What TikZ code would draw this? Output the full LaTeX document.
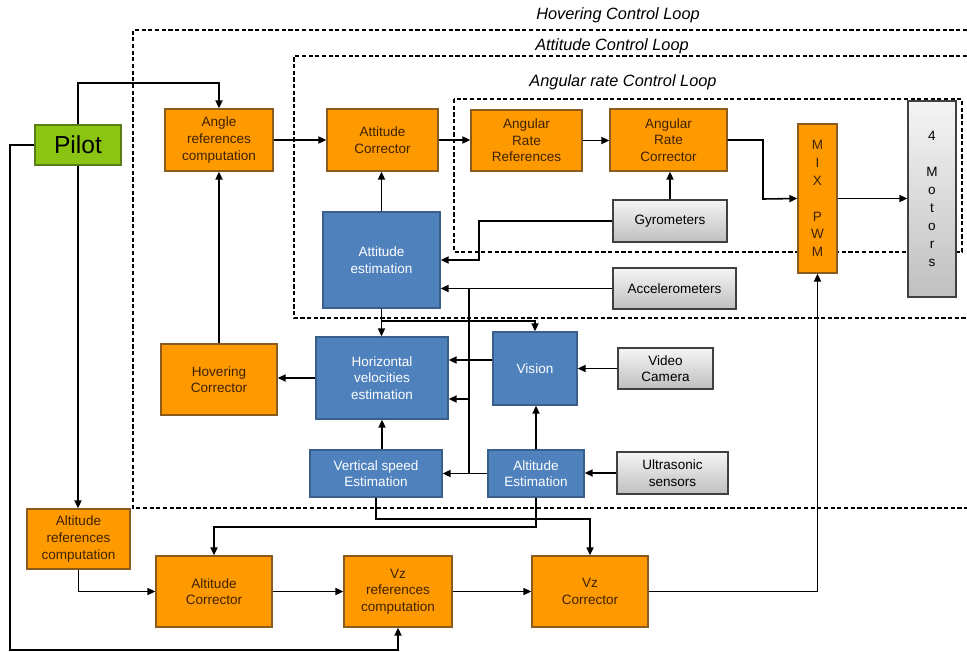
\documentclass[tikz,border=0pt]{standalone}
\usepackage{fontspec}
\setmainfont{Liberation Sans}
\usetikzlibrary{arrows.meta}

\definecolor{orangefill}{HTML}{FF9900}
\definecolor{orangeline}{HTML}{8A5A1E}
\definecolor{orangetext}{HTML}{3D2200}
\definecolor{bluefill}{HTML}{4F81BD}
\definecolor{blueline}{HTML}{3A5F8C}
\definecolor{pilotfill}{HTML}{8CC414}
\definecolor{pilotline}{HTML}{5A7D18}

\begin{document}
\begin{tikzpicture}[x=0.02cm,y=-0.02cm,
    >={Triangle[length=4.5pt,width=4pt]},
    block/.style={draw,line width=0.8pt,inner sep=0pt,align=center,
        font=\fontsize{7.7}{9.4}\selectfont},
    ctrl/.style={block,fill=orangefill,draw=orangeline,text=orangetext},
    est/.style={block,fill=bluefill,draw=blueline,text=white},
    sensor/.style={block,draw=black!75,top color=black!4,bottom color=black!25},
    pilotbox/.style={block,fill=pilotfill,draw=pilotline,font=\fontsize{14}{16}\selectfont},
    loopframe/.style={dash pattern=on 2.4pt off 1.4pt,line width=0.65pt,draw=black},
    looplabel/.style={font=\fontsize{9.3}{11}\selectfont\itshape},
    conn/.style={->,line width=0.9pt}]
    \useasboundingbox (0,0) rectangle (967,652);

    % control loops
    \draw[loopframe] (967,30) -- (133,30) -- (133,508) -- (967,508);
    \draw[loopframe] (967,56) -- (294,56) -- (294,318) -- (967,318);
    \draw[loopframe] (454,99) rectangle (962,252);
    \node[looplabel] (hovloop) at (618,15) {Hovering Control Loop};
    \node[looplabel] (attloop) at (612,46) {Attitude Control Loop};
    \node[looplabel] (rateloop) at (623,82) {Angular rate Control Loop};

    % blocks
    \node[pilotbox, minimum width=1.72cm, minimum height=0.8cm] (pilot) at (78,145) {Pilot};
    \node[ctrl, minimum width=2.16cm, minimum height=1.24cm] (angref) at (219,140) {Angle\\references\\computation};
    \node[ctrl, minimum width=2.22cm, minimum height=1.24cm] (attcor) at (382.5,140) {Attitude\\Corrector};
    \node[ctrl, minimum width=2.22cm, minimum height=1.22cm] (arr) at (526.5,140.5) {Angular\\Rate\\References};
    \node[ctrl, minimum width=2.34cm, minimum height=1.24cm] (arc) at (668.5,140) {Angular\\Rate\\Corrector};
    \node[ctrl, minimum width=0.78cm, minimum height=2.98cm, font=\fontsize{7.7}{10.2}\selectfont] (mix) at (817.5,198.5) {M\\I\\X\\ \\P\\W\\M};
    \node[sensor, minimum width=0.96cm, minimum height=3.92cm, font=\fontsize{7.7}{10.2}\selectfont] (motors) at (932,199) {4\\ \\M\\o\\t\\o\\r\\s};
    \node[sensor, minimum width=2.28cm, minimum height=0.84cm] (gyro) at (670,221) {Gyrometers};
    \node[est, minimum width=2.34cm, minimum height=1.92cm] (attest) at (381.5,260) {Attitude\\estimation};
    \node[sensor, minimum width=2.46cm, minimum height=0.82cm] (accel) at (674.5,288.5) {Accelerometers};
    \node[ctrl, minimum width=2.32cm, minimum height=1.42cm] (hovcor) at (219,379.5) {Hovering\\Corrector};
    \node[est, minimum width=2.64cm, minimum height=1.64cm] (horvel) at (382,378) {Horizontal\\velocities\\estimation};
    \node[est, minimum width=1.68cm, minimum height=1.46cm] (vision) at (535,368.5) {Vision};
    \node[sensor, minimum width=1.9cm, minimum height=0.82cm] (camera) at (665.5,368.5) {Video\\Camera};
    \node[est, minimum width=2.64cm, minimum height=0.94cm] (vspeed) at (376,473.5) {Vertical speed\\Estimation};
    \node[est, minimum width=1.92cm, minimum height=0.94cm] (altest) at (536,473.5) {Altitude\\Estimation};
    \node[sensor, minimum width=2.22cm, minimum height=0.84cm] (ultra) at (672.5,473) {Ultrasonic\\sensors};
    \node[ctrl, minimum width=2.06cm, minimum height=1.2cm] (altref) at (78.5,539) {Altitude\\references\\computation};
    \node[ctrl, minimum width=2.32cm, minimum height=1.42cm] (altcor) at (214,591.5) {Altitude\\Corrector};
    \node[ctrl, minimum width=2.16cm, minimum height=1.42cm] (vzref) at (398,591.5) {Vz\\references\\computation};
    \node[ctrl, minimum width=2.32cm, minimum height=1.42cm] (vzcor) at (590,591.5) {Vz\\Corrector};

    % pilot inputs
    \draw[conn] (pilot.north) -- (pilot.north |- 0,83) -| (angref.north);
    \draw[conn] (pilot.west) -| (10,650) -| (vzref.south);
    \draw[conn] (pilot.south) -- (pilot.south |- altref.north);

    % attitude / rate chain
    \draw[conn] (angref.east) -- (attcor.west);
    \draw[conn] (attcor.east) -- (attcor.east -| arr.west);
    \draw[conn] (arr.east) -- (arr.east -| arc.west);
    \draw[conn] (arc.east) -| (763,199) -- (mix.west);
    \draw[conn] (mix.east) -- (mix.east -| motors.west);
    \draw[conn] (gyro.north) -- (gyro.north |- arc.south);
    \draw[conn] (gyro.west) -| (479,260) -- (attest.east);
    \draw[conn] (accel.west) -- (accel.west -| attest.east);
    \draw[line width=0.9pt] (469,289) -- (469,473.5);
    \draw[conn] (469,399) -- (horvel.east |- 0,399);
    \draw[conn] (attest.north) -- (attest.north |- attcor.south);

    % estimation
    \draw[conn] (attest.south) -- (attest.south |- horvel.north);
    \draw[conn] (attest.south |- 0,321) -| (vision.north);
    \draw[conn] (vision.west |- 0,360) -- (horvel.east |- 0,360);
    \draw[conn] (camera.west) -- (camera.west -| vision.east);
    \draw[conn] (horvel.west) -- (horvel.west -| hovcor.east);
    \draw[conn] (hovcor.north) -- (angref.south);
    \draw[conn] (altest.north) -- (altest.north |- vision.south);
    \draw[conn] (altest.west) -- (vspeed.east);
    \draw[conn] (vspeed.north -| horvel.south) -- (horvel.south);
    \draw[conn] (ultra.west) -- (ultra.west -| altest.east);

    % altitude loop
    \draw[conn] (vspeed.south) |- (590,519) -- (vzcor.north);
    \draw[conn] (altest.south) |- (214,527) -- (altcor.north);
    \draw[conn] (altref.south) |- (altcor.west);
    \draw[conn] (altcor.east) -- (vzref.west);
    \draw[conn] (vzref.east) -- (vzcor.west);
    \draw[conn] (vzcor.east) -| (mix.south);
\end{tikzpicture}
\end{document}
